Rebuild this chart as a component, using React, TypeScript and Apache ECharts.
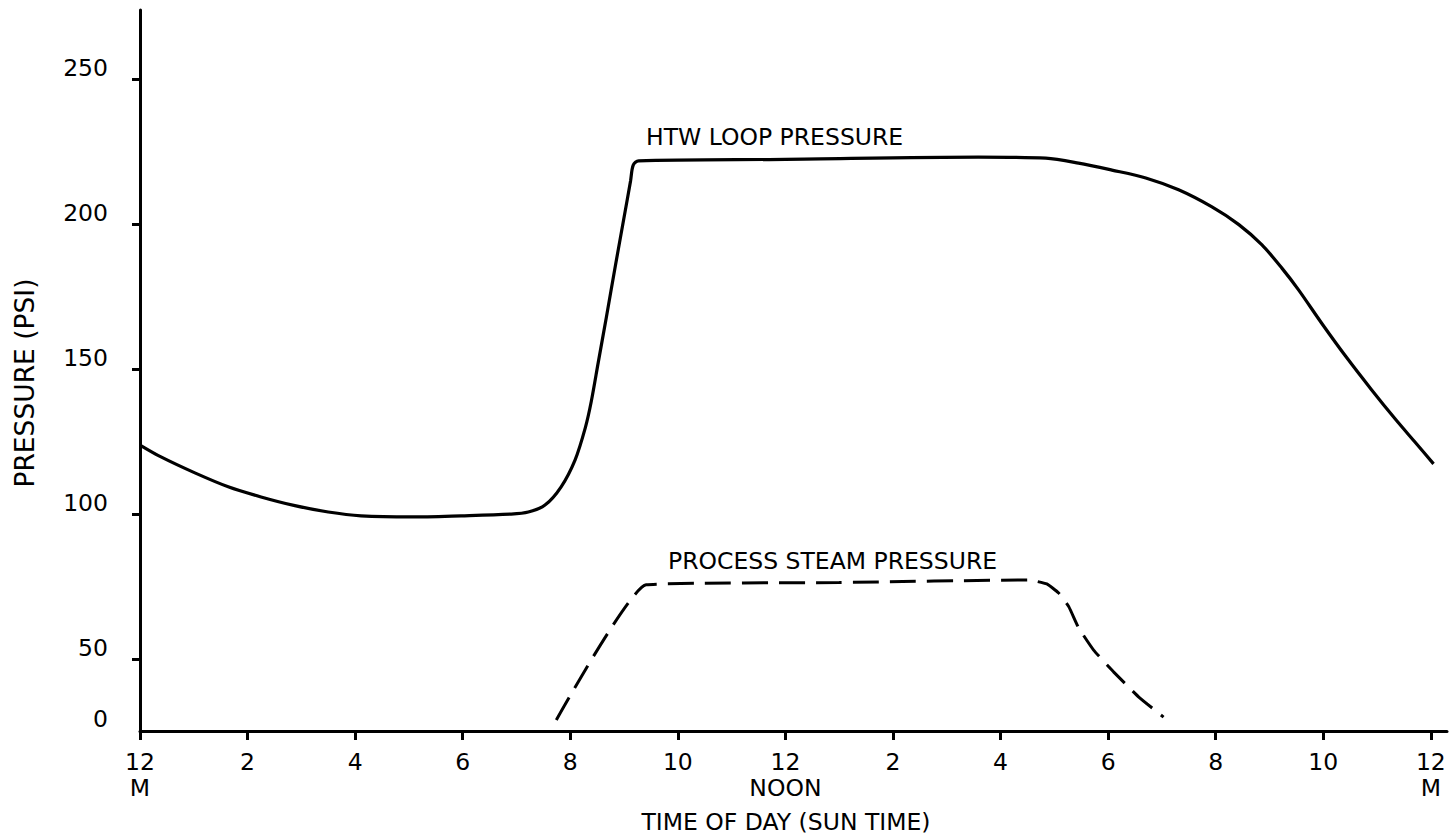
import React, { useEffect, useRef } from "react";
import * as echarts from "echarts";

// Hours of day (sun time), 0 = midnight
const htwHours = [0, 0.39, 1.02, 1.64, 2.25, 2.88, 3.5, 4.11, 5.04, 5.97, 6.9, 7.22, 7.53, 7.83, 8.09, 8.28, 8.39, 8.52, 8.67, 8.84, 8.99, 9.12, 9.17, 9.27, 12, 15.59, 16.84, 17.45, 18.07, 18.7, 19.31, 19.93, 20.43, 20.86, 21.23, 21.54, 21.97, 22.42, 22.9, 23.35, 23.72, 24.05];
const htwPsi = [124, 119.9, 114.4, 109.6, 106.1, 103.1, 100.9, 99.6, 99.2, 99.6, 100.2, 100.9, 103.3, 109.6, 118.9, 130, 139, 152.5, 168, 186, 201.5, 215, 220.5, 222, 222.5, 223.3, 222.9, 221.2, 218.8, 216.1, 212, 206.1, 200, 193, 185, 177.5, 166, 154.5, 143, 132.7, 124.7, 117.5];

const steamHours = [7.74, 9.41, 13, 16.52, 16.86, 17.08, 17.27, 17.45, 17.73, 18.1, 18.57, 19.03];
const steamPsi = [29.2, 75.8, 76.6, 77.5, 76.1, 73, 68.2, 61, 53.3, 45.8, 37.1, 30.2];

const xTickValues = [0, 2, 4, 6, 8, 10, 12, 14, 16, 18, 20, 22, 24];
const xTickLabels = ["12\nM", "2", "4", "6", "8", "10", "12\nNOON", "2", "4", "6", "8", "10", "12\nM"];

const yMin = 25.4;
const yMax = 274;
const yTickValues = [yMin, 50, 100, 150, 200, 250];
const yTickLabels = ["0", "50", "100", "150", "200", "250"];

const FONT = "DejaVu Sans";
const INK = "#000";
const FS = 23.5;

function nearestLabel(values: number[], labels: string[], v: number) {
  let best = 0;
  for (let i = 1; i < values.length; i++) {
    if (Math.abs(values[i] - v) < Math.abs(values[best] - v)) best = i;
  }
  return labels[best];
}

export default function App() {
  const ref = useRef<HTMLDivElement>(null);
  useEffect(() => {
    if (!ref.current) return;
    const chart = echarts.init(ref.current, undefined, { renderer: "svg" });
    chart.setOption({
      animation: false,
      backgroundColor: "#ffffff",
      grid: { left: 140, right: 7, top: 10, bottom: 109, containLabel: false },
      xAxis: {
        type: "value",
        min: 0,
        max: 24.3,
        axisLine: { show: true, lineStyle: { color: INK, width: 3 } },
        axisTick: { show: true, length: 9, lineStyle: { color: INK, width: 3 }, customValues: xTickValues },
        axisLabel: {
          customValues: xTickValues,
          margin: 18,
          fontFamily: FONT,
          fontSize: FS,
          lineHeight: 26,
          color: INK,
          formatter: (v: number) => nearestLabel(xTickValues, xTickLabels, v),
        },
        splitLine: { show: false },
      },
      yAxis: {
        type: "value",
        min: yMin,
        max: yMax,
        axisLine: { show: true, lineStyle: { color: INK, width: 3 } },
        axisTick: { show: true, length: 8, lineStyle: { color: INK, width: 3 }, customValues: yTickValues.slice(1) },
        axisLabel: {
          customValues: yTickValues,
          margin: 32,
          fontFamily: FONT,
          fontSize: FS,
          color: INK,
          verticalAlign: "bottom",
          formatter: (v: number) => nearestLabel(yTickValues, yTickLabels, v),
        },
        splitLine: { show: false },
      },
      series: [
        {
          name: "HTW LOOP PRESSURE",
          type: "line",
          data: htwHours.map((h, i) => [h, htwPsi[i]]),
          showSymbol: false,
          smooth: 0.3,
          lineStyle: { color: INK, width: 3.2 },
        },
        {
          name: "PROCESS STEAM PRESSURE",
          type: "line",
          data: steamHours.map((h, i) => [h, steamPsi[i]]),
          showSymbol: false,
          smooth: 0.12,
          lineStyle: { color: INK, width: 3, type: [26, 11] },
        },
      ],
      graphic: [
        {
          type: "text",
          x: 646,
          y: 137,
          style: { text: "HTW LOOP PRESSURE", fontFamily: FONT, fontSize: FS, fill: INK, textAlign: "left", textVerticalAlign: "middle" },
        },
        {
          type: "text",
          x: 668,
          y: 561,
          style: { text: "PROCESS STEAM PRESSURE", fontFamily: FONT, fontSize: FS, fill: INK, textAlign: "left", textVerticalAlign: "middle" },
        },
        {
          type: "text",
          x: 786,
          y: 822,
          style: { text: "TIME OF DAY (SUN TIME)", fontFamily: FONT, fontSize: FS, fill: INK, textAlign: "center", textVerticalAlign: "middle" },
        },
        {
          type: "text",
          x: 24,
          y: 383,
          rotation: Math.PI / 2,
          style: { text: "PRESSURE (PSI)", fontFamily: FONT, fontSize: 26.5, fill: INK, textAlign: "center", textVerticalAlign: "middle" },
        },
      ],
    });
    return () => chart.dispose();
  }, []);
  return (
    <div
      ref={ref}
      style={{ position: "fixed", left: 0, top: 0, width: 1454, height: 840, background: "#fff" }}
    />
  );
}
